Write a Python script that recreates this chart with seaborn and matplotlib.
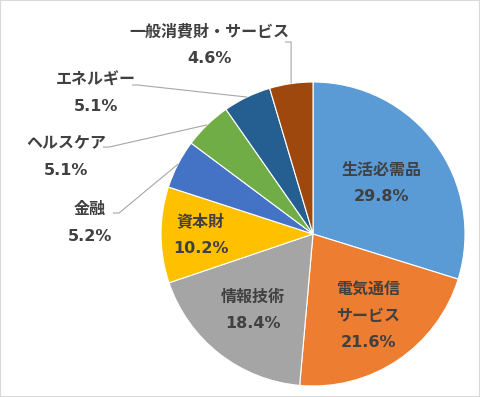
"""
セクター別構成比の円グラフ。
"""

import matplotlib
matplotlib.use('Agg')
import matplotlib.pyplot as plt
import seaborn as sns
import numpy as np
from matplotlib.patches import Rectangle

sns.set_theme(style='white')
plt.rcParams['font.family'] = ['DejaVu Sans', 'Noto Sans CJK JP']

# データ
sectors = ['生活必需品', '電気通信\nサービス', '情報技術', '資本財',
           '金融', 'ヘルスケア', 'エネルギー', '一般消費財・サービス']
shares = [29.8, 21.6, 18.4, 10.2, 5.2, 5.1, 5.1, 4.6]
colors = ['#5B9BD5', '#ED7D31', '#A5A5A5', '#FFC000',
          '#4472C4', '#70AD47', '#255E91', '#9E480E']

# ラベル配置 (内側: 半径係数, 外側: 位置と引出線の起点)
inside_r = {0: 0.56, 1: 0.65, 2: 0.64, 3: 0.74}
outside_pos = {
    4: ((-1.467, 0.072), (-1.316, 0.138)),
    5: ((-1.625, 0.507), (-1.382, 0.572)),
    6: ((-1.428, 0.928), (-1.191, 0.980)),
    7: ((-0.678, 1.243), (-0.184, 1.263)),
}

fig = plt.figure(figsize=(4.8, 3.97), dpi=100)
ax = fig.add_axes([0, 0, 1, 1])

wedges, _ = ax.pie(
    shares,
    colors=colors,
    startangle=90,
    counterclock=False,
    radius=1.0,
    wedgeprops=dict(edgecolor='white', linewidth=0.8),
)

text_kw = dict(fontsize=11.5, fontweight='bold', color='#404040',
               ha='center', va='center', linespacing=1.95)

for i, w in enumerate(wedges):
    mid = np.deg2rad((w.theta1 + w.theta2) / 2)
    label = f'{sectors[i]}\n{shares[i]:.1f}%'
    if i in inside_r:
        r = inside_r[i]
        ax.text(r * np.cos(mid), r * np.sin(mid), label, **text_kw)
    else:
        (tx, ty), (lx, ly) = outside_pos[i]
        ax.text(tx, ty, label, **text_kw)
        ex, ey = np.cos(mid), np.sin(mid)
        ax.plot([lx, lx + 0.04, ex], [ly, ly, ey],
                color='#A6A6A6', lw=0.8, solid_capstyle='butt')

ax.set_aspect('auto')
ax.set_xlim(-313 / 152, (480 - 313) / 152)
ax.set_ylim((234 - 397) / 152, 234 / 152)
ax.axis('off')

fig.patches.append(Rectangle((0, 0), 1, 1, transform=fig.transFigure,
                             fill=False, edgecolor='#D9D9D9', lw=1.5))

fig.savefig('out.png', dpi=100)
